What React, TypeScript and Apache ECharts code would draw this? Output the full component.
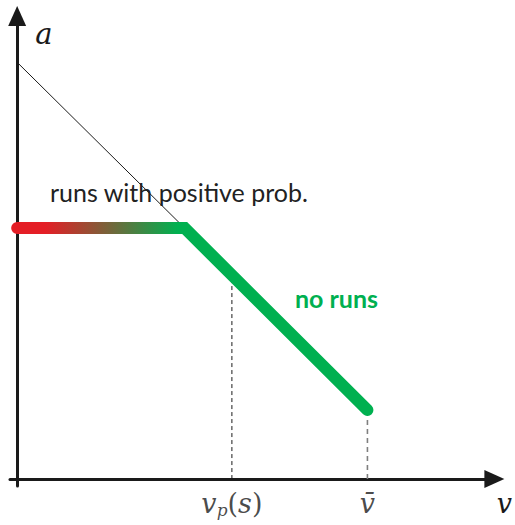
import React, { useEffect, useRef } from "react";
import * as echarts from "echarts";

// Key points of the schedule a(v)
const kinkV = 3.51;
const flatA = 5.42;
const interceptA = 9.0;
const vP = 4.5;
const vPA = 4.4;
const vBar = 7.34;
const vBarA = 1.49;

const thinLine = [
  [0, interceptA],
  [kinkV, flatA],
];
const thickLine = [
  [0, flatA],
  [kinkV, flatA],
  [vBar, vBarA],
];
const vPGuide = [
  [vP, 0],
  [vP, vPA],
];
const vBarGuide = [
  [vBar, 0],
  [vBar, vBarA],
];
const tickPoints = [
  [vP, 0],
  [vBar, 0],
];

const RED = "#e41e26";
const GREEN = "#00b050";
const AXIS = "#1a1a1a";
const MATH_FONT = "DejaVu Serif";

export default function App() {
  const ref = useRef<HTMLDivElement>(null);

  useEffect(() => {
    document.body.style.margin = "0";
    if (!ref.current) return;
    const chart = echarts.init(ref.current, null, { renderer: "svg" });

    const axisCommon = {
      type: "value" as const,
      min: -0.15,
      max: 10,
      splitLine: { show: false },
      axisTick: { show: false },
      axisLabel: { show: false },
      axisLine: {
        show: true,
        onZero: true,
        symbol: ["none", "triangle"],
        symbolSize: [18, 20],
        lineStyle: { color: AXIS, width: 3 },
      },
    };

    const kinkOffset = kinkV / vBar;

    chart.setOption({
      animation: false,
      backgroundColor: "#ffffff",
      grid: { left: 10, right: 20, top: 16, bottom: 39 },
      xAxis: {
        ...axisCommon,
        name: "v",
        nameLocation: "end",
        nameGap: 10,
        nameTextStyle: {
          fontFamily: MATH_FONT,
          fontStyle: "italic",
          fontSize: 27,
          color: "#1a1a1a",
          align: "center",
          verticalAlign: "top",
          padding: [11, 0, 0, 0],
        },
      },
      yAxis: {
        ...axisCommon,
        name: "a",
        nameLocation: "end",
        nameGap: -18,
        nameTextStyle: {
          fontFamily: MATH_FONT,
          fontStyle: "italic",
          fontSize: 29,
          color: "#1a1a1a",
          align: "left",
          verticalAlign: "middle",
          padding: [0, 0, 0, 18],
        },
      },
      graphic: [
        {
          type: "text",
          left: 50,
          top: 179,
          style: {
            text: "runs with positive prob.",
            fontFamily: "Lato",
            fontSize: 25,
            fill: "#222222",
          },
          z: 10,
        },
        {
          type: "text",
          left: 295,
          top: 285,
          style: {
            text: "no runs",
            fontFamily: "Lato",
            fontWeight: "bold",
            fontSize: 25,
            fill: GREEN,
          },
          z: 10,
        },
      ],
      series: [
        {
          type: "line",
          data: thinLine,
          symbol: "none",
          lineStyle: { color: "#1a1a1a", width: 1 },
          z: 1,
        },
        {
          type: "line",
          data: vPGuide,
          symbol: "none",
          lineStyle: { color: "#1a1a1a", width: 1, type: [4, 3] },
          z: 1,
        },
        {
          type: "line",
          data: vBarGuide,
          symbol: "none",
          lineStyle: { color: "#7f7f7f", width: 1.6, type: [5, 4] },
          z: 1,
        },
        {
          type: "line",
          data: thickLine,
          symbol: "none",
          lineStyle: {
            width: 12,
            cap: "round",
            join: "miter",
            color: new echarts.graphic.LinearGradient(0, 0, 1, 0, [
              { offset: 0, color: RED },
              { offset: 0.08, color: RED },
              { offset: kinkOffset - 0.02, color: GREEN },
              { offset: 1, color: GREEN },
            ]),
          },
          z: 3,
        },
        {
          type: "scatter",
          data: tickPoints,
          symbol: "circle",
          symbolSize: 1,
          itemStyle: { color: "transparent" },
          silent: true,
          label: {
            show: true,
            position: "bottom",
            distance: 8,
            formatter: (p: any) =>
              p.dataIndex === 0 ? "{i|v}{s|p}{n|(}{i|s}{n|)}" : "{i|v\u0304}",
            rich: {
              i: {
                fontFamily: MATH_FONT,
                fontStyle: "italic",
                fontSize: 27,
                lineHeight: 31,
                color: "#1a1a1a",
              },
              n: {
                fontFamily: MATH_FONT,
                fontSize: 27,
                lineHeight: 31,
                color: "#1a1a1a",
              },
              s: {
                fontFamily: MATH_FONT,
                fontStyle: "italic",
                fontSize: 17,
                lineHeight: 17,
                verticalAlign: "bottom",
                color: "#1a1a1a",
              },
            },
          },
          z: 5,
        },
      ],
    });

    return () => chart.dispose();
  }, []);

  return <div ref={ref} style={{ width: 515, height: 525 }} />;
}
